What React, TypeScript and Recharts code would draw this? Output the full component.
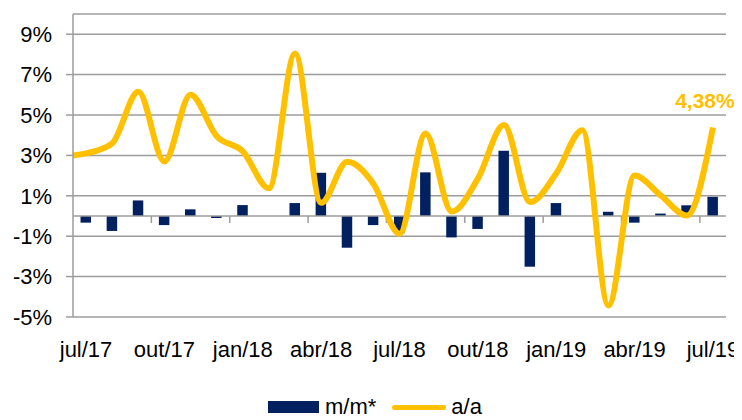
import { ComposedChart, Bar, Line, XAxis, YAxis, CartesianGrid, ReferenceLine } from 'recharts'

const MONTHS = [
  'jul/17', 'ago/17', 'set/17', 'out/17', 'nov/17', 'dez/17',
  'jan/18', 'fev/18', 'mar/18', 'abr/18', 'mai/18', 'jun/18',
  'jul/18', 'ago/18', 'set/18', 'out/18', 'nov/18', 'dez/18',
  'jan/19', 'fev/19', 'mar/19', 'abr/19', 'mai/19', 'jun/19', 'jul/19',
]
// m/m* (barras)
const MM = [
  -0.33, -0.74, 0.77, -0.45, 0.33, -0.1, 0.54, 0, 0.64, 2.14, -1.57, -0.45,
  -0.86, 2.16, -1.06, -0.64, 3.23, -2.51, 0.64, 0, 0.21, -0.33, 0.12, 0.53, 0.95,
]
// a/a (linha)
const AA = [
  3.1, 3.6, 6.15, 2.7, 6.0, 3.95, 3.2, 1.37, 8.05, 0.65, 2.68, 1.6,
  -0.88, 4.08, 0.22, 1.85, 4.5, 0.69, 2.1, 4.25, -4.43, 2.0, 1.02, 0.02, 4.38,
]
// a linha começa na borda do eixo, meia categoria antes de jul/17
const AA_OPEN = 3.0
const X_TICKS = [0, 3, 6, 9, 12, 15, 18, 21, 24]
const Y_TICKS = [-5, -3, -1, 1, 3, 5, 7, 9]
const QUARTER_MARKS = [2.5, 5.5, 8.5, 11.5, 14.5, 17.5, 20.5, 23.5]

const NAVY = '#002060'
const GOLD = '#FFC000'
const GRID = '#9c9c9c'
const FONT = '"Liberation Sans", Arial, sans-serif'

const data = [
  { i: -0.5, month: '', mm: null as number | null, aa: AA_OPEN },
  ...MONTHS.map((month, i) => ({ i, month, mm: MM[i] as number | null, aa: AA[i] })),
]
const last = MONTHS.length - 1
const fmt = (v: number) => `${v.toFixed(2).replace('.', ',')}%`

const barLabel = (p: any) => {
  if (p.index !== last + 1 || p.height == null) return <g />
  const zero = p.y + p.height
  return (
    <text x={p.x + p.width / 2 - 3.5} y={zero + 21} textAnchor="middle" dominantBaseline="central"
      fill={NAVY} fontSize={21} fontWeight="bold" fontFamily={FONT}>
      {fmt(MM[last])}
    </text>
  )
}

const lineLabel = (p: any) => {
  if (p.index !== last + 1) return <g />
  return (
    <text x={p.x - 8} y={p.y - 27} textAnchor="middle" dominantBaseline="central"
      fill={GOLD} fontSize={21} fontWeight="bold" fontFamily={FONT}>
      {fmt(AA[last])}
    </text>
  )
}

export default function App() {
  return (
    <div style={{ width: 734, fontFamily: FONT }}>
      <ComposedChart width={734} height={370} data={data}
        margin={{ top: 6, right: 16, left: 0, bottom: 21 }}>
        <CartesianGrid vertical={false} stroke={GRID} strokeWidth={1.5} />
        <XAxis dataKey="i" type="number" domain={[-0.5, 24.5]} ticks={X_TICKS} interval={0}
          tickFormatter={(v) => MONTHS[v]} axisLine={false} tickLine={false} tickSize={0}
          tickMargin={24} height={40}
          tick={{ fontSize: 22, fill: '#000', fontFamily: FONT }} />
        <YAxis domain={[-5, 10]} ticks={Y_TICKS} interval={0} width={65}
          tickFormatter={(v) => `${v}%`} axisLine={{ stroke: GRID, strokeWidth: 1.5 }}
          tickLine={{ stroke: GRID, strokeWidth: 1.5 }} tickSize={7} tickMargin={14}
          tick={{ fontSize: 22, fill: '#000', fontFamily: FONT }} />
        <ReferenceLine y={0} stroke={GRID} strokeWidth={1.5} />
        {QUARTER_MARKS.map((q) => (
          <ReferenceLine key={q} segment={[{ x: q, y: 0 }, { x: q, y: -0.35 }]}
            stroke={GRID} strokeWidth={1.5} />
        ))}
        <Bar dataKey="mm" fill={NAVY} barSize={10.5} isAnimationActive={false} label={barLabel} />
        <Line dataKey="aa" type="monotone" stroke={GOLD} strokeWidth={6} dot={false}
          activeDot={false} isAnimationActive={false} label={lineLabel} />
      </ComposedChart>
      <div style={{ display: 'flex', justifyContent: 'center', alignItems: 'center',
        paddingTop: 18, fontSize: 22, lineHeight: '22px', color: '#000' }}>
        <span style={{ width: 51, height: 12, background: NAVY, marginRight: 6 }} />
        <span style={{ marginRight: 16 }}>m/m*</span>
        <span style={{ width: 54, height: 5, borderRadius: 3, background: GOLD, marginRight: 5 }} />
        <span>a/a</span>
      </div>
    </div>
  )
}
